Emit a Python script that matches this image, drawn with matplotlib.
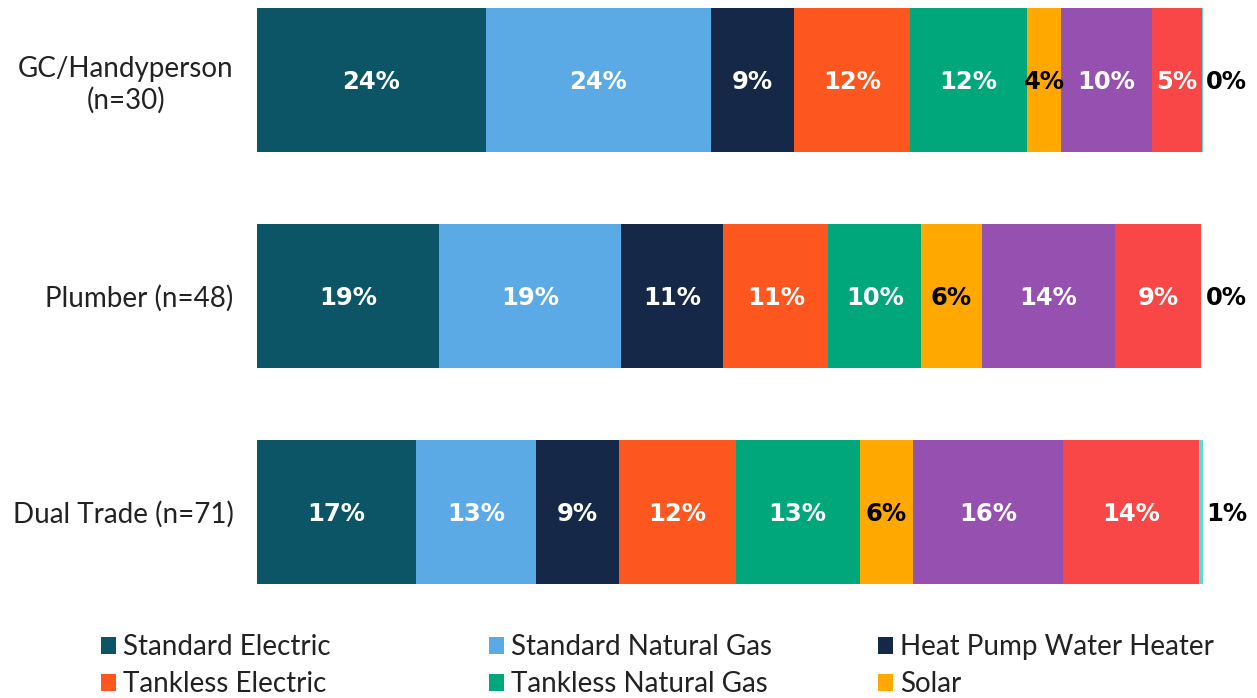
import numpy as np
import matplotlib
matplotlib.use('Agg')
import matplotlib.pyplot as plt
from matplotlib.patches import Patch

categories = ['GC/Handyperson\n(n=30)', 'Plumber (n=48)', 'Dual Trade (n=71)']
series = ['Standard Electric', 'Standard Natural Gas', 'Heat Pump Water Heater',
          'Tankless Electric', 'Tankless Natural Gas', 'Solar', 'Purple', 'Red', 'Cyan']
std_electric = [24.2, 19.2, 16.8]
std_gas = [23.8, 19.3, 12.7]
heat_pump = [8.8, 10.8, 8.8]
tankless_electric = [12.2, 11.1, 12.3]
tankless_gas = [12.4, 9.8, 13.1]
solar = [3.6, 6.4, 5.6]
purple = [9.6, 14.1, 15.9]
red = [5.3, 9.1, 14.4]
cyan = [0.1, 0.0, 0.6]
values = [std_electric, std_gas, heat_pump, tankless_electric, tankless_gas,
          solar, purple, red, cyan]

colors = ['#0B5567', '#5BA9E5', '#152848', '#FE561F', '#00A77A',
          '#FFA800', '#9650B0', '#F94646', '#5DD6DC']
label_colors = ['white', 'white', 'white', 'white', 'white', 'black', 'white', 'white', 'black']

fig = plt.figure(figsize=(12.57, 6.98), dpi=100)
ax = fig.add_axes([257 / 1257, (698 - 584) / 698, 946 / 1257, 576 / 698])

y = np.arange(len(categories))
left = np.zeros(len(categories))
for i, vals in enumerate(values):
    vals = np.array(vals)
    ax.barh(y, vals, left=left, height=0.667, color=colors[i], linewidth=0)
    for j, v in enumerate(vals):
        txt = '%d%%' % int(np.floor(v + 0.5))
        if i == len(values) - 1:
            ax.text(100.3, y[j] + 0.01, txt, ha='left', va='center', fontsize=17.5,
                    fontweight='bold', color='black', clip_on=False)
        else:
            ax.text(left[j] + v / 2, y[j] + 0.01, txt, ha='center', va='center', fontsize=17.5,
                    fontweight='bold', color=label_colors[i])
    left += vals

ax.set_xlim(0, 100)
ax.set_ylim(2.3335, -0.3335)
ax.set_yticks(y)
ax.set_yticklabels(categories, fontsize=20, family='Lato', color='#222222',
                   multialignment='center')
ax.tick_params(axis='y', length=0, pad=17)
ax.set_xticks([])
for s in ax.spines.values():
    s.set_visible(False)

# legend, one column at a time (only the first six entries show in the reference)
cols = [[0, 3], [1, 4], [2, 5]]
col_x = [101, 489, 878]
for c, xpos in zip(cols, col_x):
    handles = [Patch(facecolor=colors[k], edgecolor='none') for k in c]
    labels = [series[k] for k in c]
    fig.legend(handles, labels, ncol=1, loc='upper left',
               bbox_to_anchor=(xpos / 1257, 1 - 634 / 698),
               frameon=False, prop={'family': 'Lato', 'size': 20}, handlelength=0.55,
               handleheight=0.55, handletextpad=0.25, labelspacing=0.4,
               borderaxespad=0, borderpad=0, labelcolor='#222222')

fig.savefig('out.png', dpi=100)
